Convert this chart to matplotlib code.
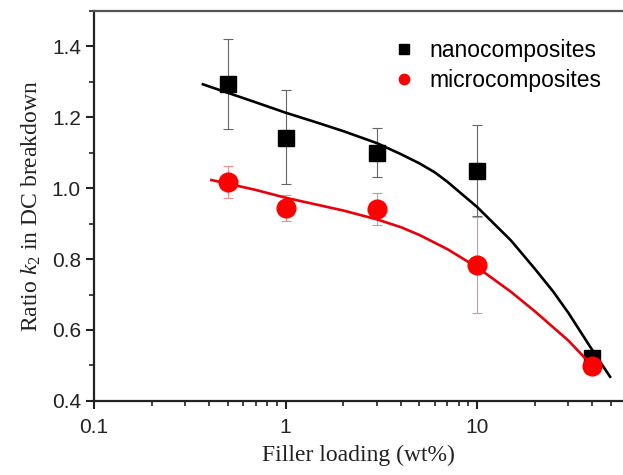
import matplotlib.pyplot as plt
from matplotlib.ticker import LogLocator, FixedLocator, MultipleLocator, FormatStrFormatter, NullFormatter

# measured points
loading = [0.5, 1, 3, 10, 40]
nano = [1.293, 1.141, 1.099, 1.048, 0.522]
nano_err_lo = [0.127, 0.130, 0.068, 0.127, 0.0]
nano_err_hi = [0.127, 0.135, 0.070, 0.130, 0.0]
micro = [1.017, 0.944, 0.941, 0.783, 0.499]
micro_err_lo = [0.045, 0.037, 0.045, 0.135, 0.0]
micro_err_hi = [0.045, 0.036, 0.045, 0.135, 0.0]

# fitted curves
nano_fit_x = [0.37, 0.7, 1, 1.5, 2, 3, 4, 5, 6, 7, 10, 15, 20, 25, 30, 40, 49.5]
nano_fit_y = [1.293, 1.242, 1.213, 1.183, 1.161, 1.127, 1.096, 1.070, 1.045, 1.018, 0.947,
              0.853, 0.773, 0.708, 0.648, 0.543, 0.468]
micro_fit_x = [0.41, 0.7, 1, 1.5, 2, 3, 4, 5, 7, 10, 15, 20, 30, 40]
micro_fit_y = [1.023, 0.995, 0.973, 0.952, 0.937, 0.912, 0.890, 0.868, 0.828, 0.777,
               0.708, 0.653, 0.570, 0.499]

plt.rcParams['font.family'] = ['Liberation Sans', 'DejaVu Sans']
plt.rcParams['mathtext.fontset'] = 'custom'
plt.rcParams['mathtext.it'] = 'Liberation Serif:italic'
plt.rcParams['mathtext.rm'] = 'Liberation Serif'

fig = plt.figure(figsize=(6.23, 4.75), dpi=100)
ax = fig.add_axes([0.151, 0.156, 0.849, 0.821])

ax.plot(nano_fit_x, nano_fit_y, color='black', lw=1.9, zorder=2)
ax.errorbar(loading, nano, yerr=[nano_err_lo, nano_err_hi], fmt='none',
            ecolor='#666666', elinewidth=0.8, capsize=3.5, capthick=0.8, zorder=1)
ax.plot(loading, nano, 's', color='black', ms=12, zorder=3)

ax.plot(micro_fit_x, micro_fit_y, color='#e8000b', lw=1.9, zorder=4)
ax.errorbar(loading, micro, yerr=[micro_err_lo, micro_err_hi], fmt='none',
            ecolor='#e89090', elinewidth=0.8, capsize=3.5, capthick=0.8, zorder=1)
ax.plot(loading, micro, 'o', color='#ff0000', ms=13.5, zorder=5)

# legend
ax.plot([], [], 's', color='black', ms=6.5, label='nanocomposites')
ax.plot([], [], 'o', color='#ff0000', ms=7.5, label='microcomposites')
h, l = ax.get_legend_handles_labels()
ax.legend(h[-2:], l[-2:], loc='upper left', bbox_to_anchor=(0.552, 0.952),
          frameon=False, fontsize=16.5, handlelength=0.75, handletextpad=0.75,
          labelspacing=0.3, borderpad=0.4, borderaxespad=0)

ax.set_xscale('log')
ax.set_xlim(0.1, 57.8)
ax.set_ylim(0.4, 1.5)
ax.xaxis.set_major_locator(FixedLocator([0.1, 1, 10]))
ax.xaxis.set_major_formatter(FormatStrFormatter('%g'))
ax.xaxis.set_minor_locator(LogLocator(base=10, subs=range(2, 10), numticks=20))
ax.xaxis.set_minor_formatter(NullFormatter())
ax.yaxis.set_major_locator(FixedLocator([0.4, 0.6, 0.8, 1.0, 1.2, 1.4]))
ax.yaxis.set_major_formatter(FormatStrFormatter('%.1f'))
ax.yaxis.set_minor_locator(MultipleLocator(0.1))

ax.tick_params(which='major', length=6, width=1.5, labelsize=15, color='#222222', labelcolor='#222222')
ax.tick_params(which='minor', length=3.5, width=1.2, color='#222222')
ax.tick_params(axis='x', pad=6)

for side in ['left', 'bottom']:
    ax.spines[side].set_linewidth(1.6)
    ax.spines[side].set_color('#222222')
ax.spines['top'].set_linewidth(1.6)
ax.spines['top'].set_color('#555555')
ax.spines['right'].set_visible(False)

ax.set_xlabel('Filler loading (wt%)', family='Liberation Serif', fontsize=17, color='#222222', labelpad=6)
ax.set_ylabel('Ratio $k_2$ in DC breakdown', family='Liberation Serif', fontsize=17, color='#222222', labelpad=6)

fig.savefig('out.png', dpi=100)
